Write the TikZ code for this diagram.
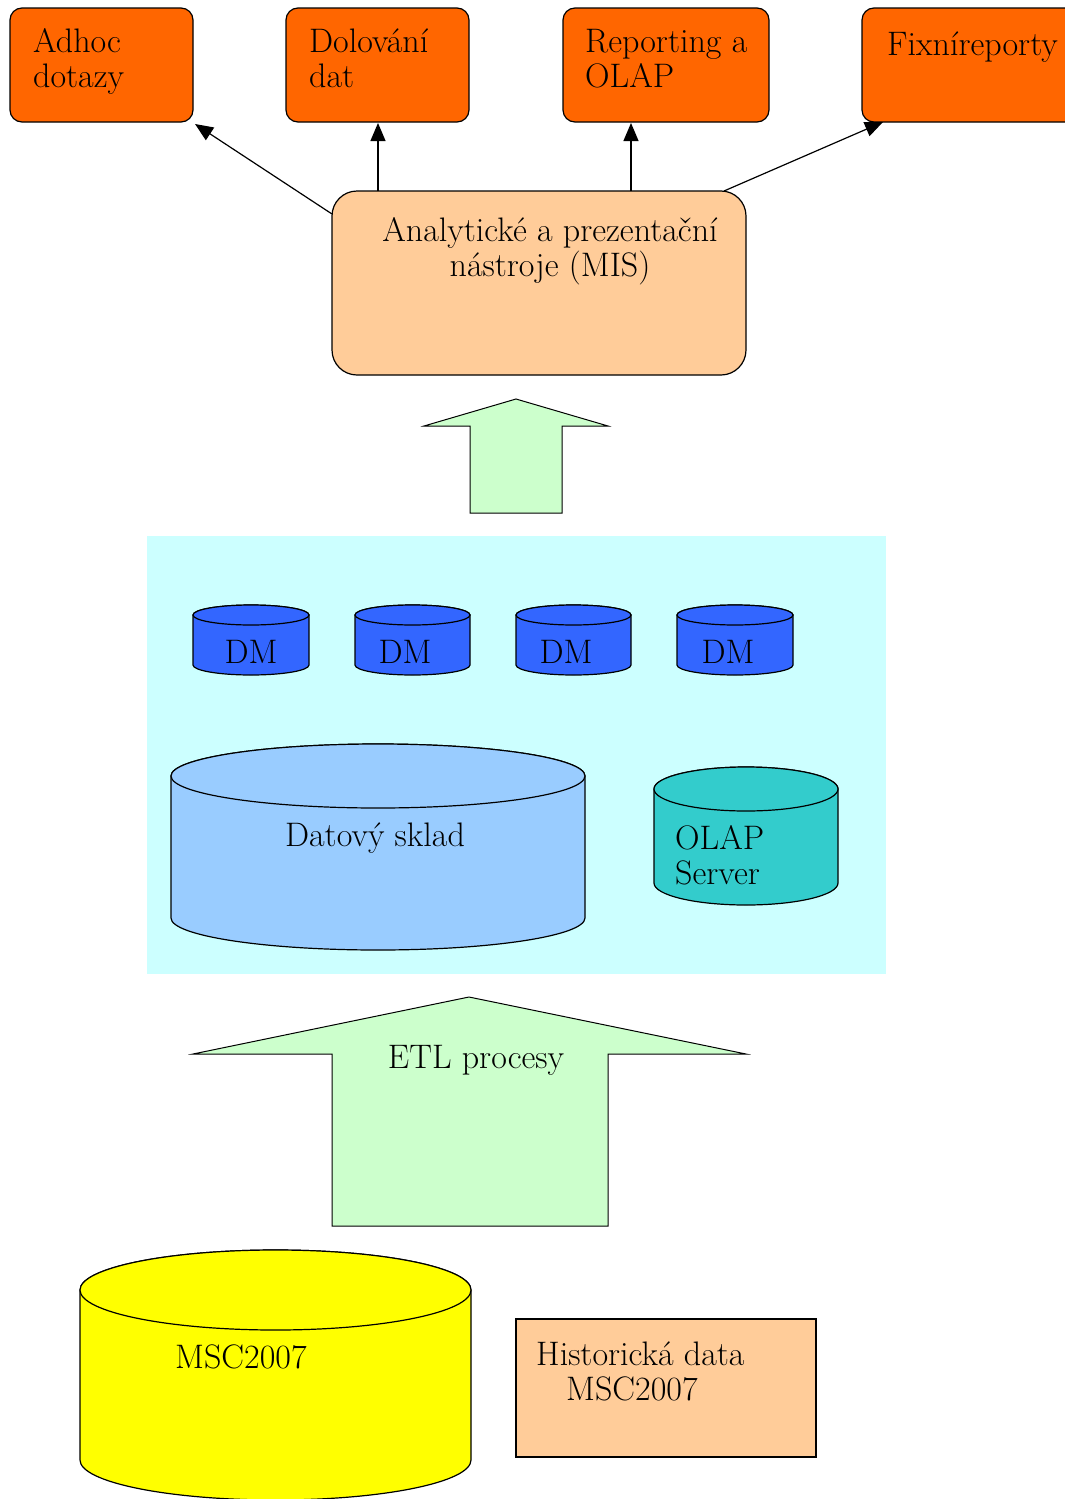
\documentclass[tikz,border=0pt]{standalone}
\usetikzlibrary{arrows.meta}
\definecolor{orangebox}{HTML}{FF6600}
\definecolor{peach}{HTML}{FFCC99}
\definecolor{mint}{HTML}{CCFFCC}
\definecolor{paleCyan}{HTML}{CCFFFF}
\definecolor{dmblue}{HTML}{3366FF}
\definecolor{skyblue}{HTML}{99CCFF}
\definecolor{teal2}{HTML}{33CCCC}
\definecolor{yel}{HTML}{FFFF00}
\newcommand{\bigfont}{\fontsize{34}{35}\selectfont}
\tikzset{
  topbox/.style={draw=black, line width=1.2pt, fill=orangebox, rounded corners=12pt, inner sep=0pt},
  lbl/.style={inner sep=0pt, align=left, font=\bigfont, anchor=base west},
  clbl/.style={inner sep=0pt, align=center, font=\bigfont, anchor=base},
  arr/.style={line width=1.2pt, -{Triangle[length=18pt,width=15pt]}},
  blk/.style={draw=black, line width=1pt, fill=mint},
  cyl/.style={draw=black, line width=1.2pt}
}
% cylinder: #1 fill colour, #2 left x, #3 right x, #4 top-ellipse centre y, #5 bottom-ellipse centre y, #6 ry
\newcommand{\cylshape}[6]{%
  \path[cyl,fill=#1] (#2,#4) -- (#2,#5) arc[start angle=180,end angle=0,x radius={(#3-#2)/2},y radius=#6] -- (#3,#4)
     arc[start angle=360,end angle=180,x radius={(#3-#2)/2},y radius=#6] -- cycle;
  \path[cyl,fill=#1] ({(#2+#3)/2},#4) ellipse[x radius={(#3-#2)/2},y radius=#6];
}
\begin{document}
\begin{tikzpicture}[x=1pt,y=-1pt]
\useasboundingbox (0,0) rectangle (1065,1499);
% top boxes
\node[topbox, minimum width=183pt, minimum height=114pt] (adhoc) at (101.5,65) {};
\node[topbox, minimum width=183pt, minimum height=114pt] (dolovani) at (377.5,65) {};
\node[topbox, minimum width=206pt, minimum height=114pt] (reporting) at (666,65) {};
\node[topbox, minimum width=215pt, minimum height=114pt] (fixni) at (969.5,65) {};
\node[lbl] (tadhoc) at (33,87) {Adhoc\\dotazy};
\node[lbl] (tdol) at (309,87) {Dolování\\dat};
\node[lbl] (trep) at (585,87) {Reporting a\\OLAP};
\node[lbl] (tfix) at (887,55) {Fixníreporty};
% MIS box
\node[draw=black, line width=1.2pt, fill=peach, rounded corners=25pt, minimum width=414pt, minimum height=184pt, inner sep=0pt] (mis) at (539,283) {};
\node[clbl] (tmis) at (550,276) {Analytické a prezentační\\nástroje (MIS)};
% arrows
\coordinate (m1) at (332,214);
\coordinate (m2) at (378,191);
\coordinate (m3) at (631,191);
\coordinate (m4) at (724,191);
\coordinate (a1) at (195,124);
\coordinate (a2) at (378,123);
\coordinate (a3) at (631,123);
\coordinate (a4) at (883,122);
\draw[arr] (m1) -- (a1);
\draw[arr] (m2) -- (a2);
\draw[arr] (m3) -- (a3);
\draw[arr] (m4) -- (a4);
% small block arrow
\draw[blk] (470,513) -- (470,426) -- (424,426) -- (516,399) -- (608,426) -- (562,426) -- (562,513) -- cycle;
% cyan panel
\node[fill=paleCyan, minimum width=739pt, minimum height=438pt, inner sep=0pt] (panel) at (516.5,755) {};
% DM cylinders
\cylshape{dmblue}{193}{309}{615}{665}{10}
\cylshape{dmblue}{355}{470}{615}{665}{10}
\cylshape{dmblue}{516}{631}{615}{665}{10}
\cylshape{dmblue}{677}{793}{615}{665}{10}
\node[clbl] (dm1) at (251,663) {DM};
\node[clbl] (dm2) at (405,663) {DM};
\node[clbl] (dm3) at (566,663) {DM};
\node[clbl] (dm4) at (728,663) {DM};
% data warehouse
\cylshape{skyblue}{171}{585}{776}{918}{32}
\node[clbl] (tds) at (375,846) {Datový sklad};
% OLAP server
\cylshape{teal2}{654}{838}{789}{883}{22}
\node[lbl] (tolap) at (675,884) {OLAP\\Server};
% ETL block arrow
\draw[blk] (332,1226) -- (332,1054) -- (193,1054) -- (469,997) -- (746,1054) -- (608,1054) -- (608,1226) -- cycle;
\node[clbl] (tetl) at (476,1068) {ETL procesy};
% MSC2007 cylinder
\cylshape{yel}{80}{471}{1290}{1460}{40}
\node[lbl] (tmsc) at (175,1368) {MSC2007};
% historical data
\node[draw=black, line width=1.2pt, fill=peach, minimum width=300pt, minimum height=138pt, inner sep=0pt] (hist) at (666,1388) {};
\node[lbl] (thist) at (536,1400) {Historická data\\\hspace*{30pt}MSC2007};
\end{tikzpicture}
\end{document}
